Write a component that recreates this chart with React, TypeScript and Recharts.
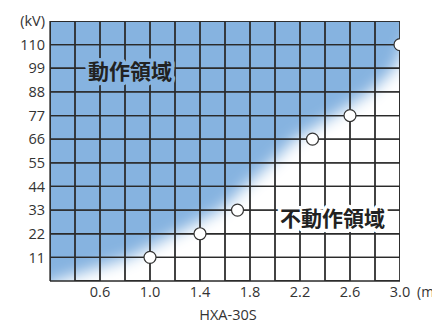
import React from 'react';
import {
  ComposedChart,
  Area,
  Line,
  Scatter,
  XAxis,
  YAxis,
  CartesianGrid,
  ReferenceDot,
  Label,
} from 'recharts';

// ---- data ----
const xGridTicks = [0.2, 0.4, 0.6, 0.8, 1.0, 1.2, 1.4, 1.6, 1.8, 2.0, 2.2, 2.4, 2.6, 2.8, 3.0];
const xLabelTicks = [0.6, 1.0, 1.4, 1.8, 2.2, 2.6, 3.0];
const yTicks = [11, 22, 33, 44, 55, 66, 77, 88, 99, 110, 121];
const xDomain = [0.2, 3.0];
const yDomain = [0, 121];
const yUnitLabel = '(kV)';
const xUnitLabel = '(m)';
const modelName = 'HXA-30S';

const pointX = [1.0, 1.4, 1.7, 2.3, 2.6, 3.0];
const pointY = [11, 22, 33, 66, 77, 110];

// boundary between operating (blue) and non-operating (white) regions
const boundaryX = [0.0, 0.24, 0.84, 1.2, 1.56, 1.76, 1.97, 2.16, 2.47, 2.76, 2.96, 3.04, 3.12, 3.5, 4.0];
const boundaryY = [-8, 0, 11, 22, 33, 44, 55, 66, 77, 88, 99, 110, 121, 150, 150];

const operateText = '動作領域';
const nonOperateText = '不動作領域';
const operateAt = { x: 0.84, y: 98 };
const nonOperateAt = { x: 2.46, y: 30 };

// ---- derived tables ----
const points = pointX.map((x, i) => ({ x, y: pointY[i] }));
const boundary = boundaryX.map((x, i) => ({ x, y: boundaryY[i] }));
// grid drawn as one zig-zag path per direction (connectors run along the plot border)
const verticalGrid = xGridTicks.flatMap((v, i) =>
  i % 2 === 0
    ? [{ x: v, y: yDomain[0] }, { x: v, y: yDomain[1] }]
    : [{ x: v, y: yDomain[1] }, { x: v, y: yDomain[0] }]
);
const horizontalGrid = yTicks.flatMap((v, i) =>
  i % 2 === 0
    ? [{ x: xDomain[0], y: v }, { x: xDomain[1], y: v }]
    : [{ x: xDomain[1], y: v }, { x: xDomain[0], y: v }]
);

const BLUE = '#86B3E0';
const INK = '#333';
const GRID = '#2a2a2a';
const TICK_FONT = '"Open Sans", "Noto Sans", sans-serif';
const CJK_FONT = '"Noto Sans CJK JP", "Noto Sans", sans-serif';

const XTick = (props: any) => {
  const { x, y, payload } = props;
  const v = Number(payload.value);
  const show = xLabelTicks.some((t) => Math.abs(t - v) < 1e-6);
  if (!show) return null;
  const isLast = Math.abs(v - xLabelTicks[xLabelTicks.length - 1]) < 1e-6;
  return (
    <g>
      <text x={x} y={y} dy="0.71em" textAnchor="middle" fill={INK} fontSize={14.5} fontFamily={TICK_FONT}>
        {v.toFixed(1)}
      </text>
      {isLast && (
        <text x={x + 17} y={y} dy="0.71em" textAnchor="start" fill={INK} fontSize={14} fontFamily={TICK_FONT}>
          {xUnitLabel}
        </text>
      )}
    </g>
  );
};

const regionText = (text: string, halo: string) => (p: any) => (
  <text
    x={p.cx}
    y={p.cy}
    textAnchor="middle"
    dominantBaseline="central"
    fontSize={21}
    fontWeight={700}
    fontFamily={CJK_FONT}
    fill="#222"
    stroke={halo}
    strokeWidth={7}
    strokeLinejoin="round"
    paintOrder="stroke"
  >
    {text}
  </text>
);

const noShape = () => <g />;

export default function App() {
  return (
    <ComposedChart width={432} height={318} margin={{ top: 13, right: 40, bottom: 0, left: 0 }}>
      <defs>
        <filter id="softEdge" x="-30%" y="-30%" width="160%" height="160%">
          <feGaussianBlur stdDeviation="7.5" />
        </filter>
      </defs>
      <CartesianGrid horizontal={false} vertical={false} fill={BLUE} fillOpacity={1} />
      <XAxis
        type="number"
        dataKey="x"
        domain={xDomain}
        ticks={xGridTicks}
        interval={0}
        allowDataOverflow
        tickLine={false}
        tickSize={0}
        tickMargin={6}
        axisLine={{ stroke: GRID, strokeWidth: 1.3 }}
        height={45}
        tick={<XTick />}
      >
        <Label value={modelName} position="insideBottom" offset={6} dx={3} fill={INK} fontSize={14.5} fontFamily={TICK_FONT} />
      </XAxis>
      <YAxis
        type="number"
        dataKey="y"
        domain={yDomain}
        ticks={yTicks}
        interval={0}
        allowDataOverflow
        tickLine={false}
        tickSize={0}
        tickMargin={5}
        width={42}
        axisLine={{ stroke: GRID, strokeWidth: 1.3 }}
        tick={{ fill: INK, fontSize: 14.5, fontFamily: TICK_FONT }}
        tickFormatter={(v: number) => (v === 121 ? yUnitLabel : String(v))}
      />
      <Area
        data={boundary}
        dataKey="y"
        type="linear"
        fill="#ffffff"
        fillOpacity={1}
        stroke="none"
        baseValue={-40}
        filter="url(#softEdge)"
        isAnimationActive={false}
      />
      <Line data={verticalGrid} dataKey="y" type="linear" stroke={GRID} strokeWidth={1.3} dot={false} isAnimationActive={false} />
      <Line data={horizontalGrid} dataKey="y" type="linear" stroke={GRID} strokeWidth={1.3} dot={false} isAnimationActive={false} />
      <Scatter
        data={verticalGrid}
        dataKey="y"
        line={{ stroke: GRID, strokeWidth: 1.3 }}
        lineType="joint"
        shape={noShape}
        isAnimationActive={false}
      />
      <Scatter
        data={horizontalGrid}
        dataKey="y"
        line={{ stroke: GRID, strokeWidth: 1.3 }}
        lineType="joint"
        shape={noShape}
        isAnimationActive={false}
      />
      <Scatter
        data={points}
        dataKey="y"
        isAnimationActive={false}
        shape={(p: any) => (
          <circle cx={p.cx} cy={p.cy} r={6} fill="#fff" stroke={INK} strokeWidth={1.2} />
        )}
      />
      <ReferenceDot x={operateAt.x} y={operateAt.y} r={0} shape={regionText(operateText, BLUE)} />
      <ReferenceDot x={nonOperateAt.x} y={nonOperateAt.y} r={0} shape={regionText(nonOperateText, '#fff')} />
    </ComposedChart>
  );
}
